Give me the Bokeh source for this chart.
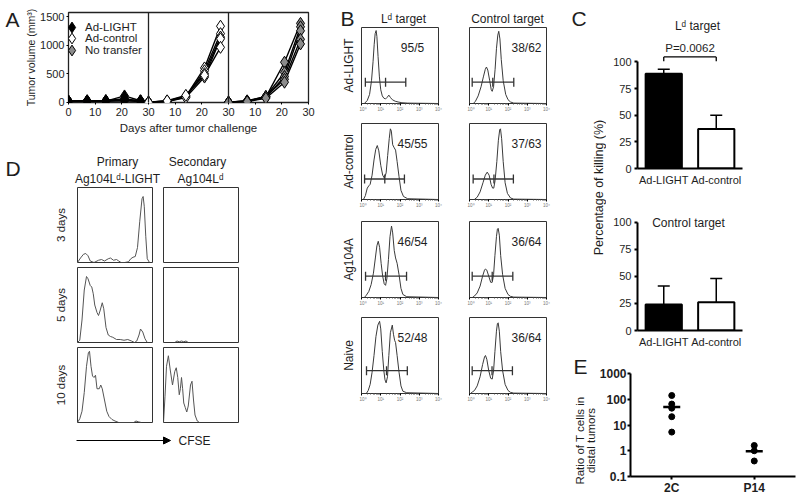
import math
from bokeh.plotting import figure
from bokeh.layouts import row, column
from bokeh.models import (Range1d, FactorRange, Label, Legend, LegendItem, FixedTicker, Span,
                          Whisker, TeeHead, ColumnDataSource, Arrow, NormalHead,
                          CustomJSTickFormatter)
from bokeh.embed import file_html
from bokeh.resources import INLINE

FONT = "Liberation Sans"
TXT = "#1e1e1e"

# ======================= DATA =======================
# ---- A: tumour growth (three adjoined sub-panels, 0-30 days each)
A_DAYS = [0, 7, 14, 21, 27]
A_PANEL_DAYS = 30
A_Y_TICKS = [0, 500, 1000, 1500]
A_GROUPS = ["Ad-LIGHT", "Ad-control", "No transfer"]
A_FILLS = ["black", "white", "#8c8c8c"]
A_LIGHT = [[20, 25, 20, 110, 25], [15, 20, 25, 60, 20], [10, 15, 20, 35, 15],
           [20, 25, 30, 50, 25], [15, 20, 15, 25, 10]]
A_CONTROL = [[0, 20, 100, 600, 1330], [0, 15, 90, 550, 1200], [0, 20, 110, 500, 1140],
             [0, 10, 80, 440, 1110], [0, 25, 120, 470, 960]]
A_NO_TRANSFER = [[0, 20, 90, 700, 1380], [0, 25, 100, 520, 1320], [0, 15, 80, 450, 1250],
                 [0, 20, 100, 400, 1100], [0, 10, 70, 350, 1020]]

# ---- B: flow histograms (x in decades of fluorescence, y relative count)
B_ROWS = ["Ad-LIGHT", "Ad-control", "Ag104A", "Naive"]
B_TARGETS = ["Lᵈ target", "Control target"]
B_RATIO_LD = ["95/5", "45/55", "46/54", "52/48"]
B_RATIO_CT = ["38/62", "37/63", "36/64", "36/64"]
B_DECADES = [0, 1, 2, 3, 4]

LD_LIGHT_X = [0.15, 0.3, 0.42, 0.52, 0.6, 0.66, 0.71, 0.76, 0.8, 0.86, 0.93, 1.0, 1.08, 1.16, 1.25,
              1.33, 1.42, 1.5, 1.6, 1.75, 1.9, 2.1, 2.4, 4.0]
LD_LIGHT_Y = [0.0, 0.04, 0.12, 0.3, 0.55, 0.78, 0.92, 0.96, 0.88, 0.62, 0.35, 0.18, 0.1, 0.07, 0.06,
              0.08, 0.11, 0.08, 0.05, 0.03, 0.02, 0.01, 0.005, 0.0]
CT_LIGHT_X = [0.2, 0.31, 0.45, 0.6, 0.72, 0.82, 0.88, 0.95, 1.05, 1.13, 1.18, 1.25, 1.33, 1.4, 1.47,
              1.52, 1.58, 1.65, 1.75, 1.88, 2.0, 2.13, 2.3, 4.0]
CT_LIGHT_Y = [0.0, 0.03, 0.1, 0.22, 0.35, 0.45, 0.48, 0.44, 0.3, 0.18, 0.16, 0.22, 0.45, 0.72, 0.9,
              0.95, 0.85, 0.58, 0.3, 0.12, 0.05, 0.02, 0.005, 0.0]
LD_CONTROL_X = [0.1, 0.2, 0.3, 0.38, 0.45, 0.55, 0.65, 0.74, 0.82, 0.9, 1.0, 1.1, 1.19, 1.28, 1.36,
                1.44, 1.5, 1.55, 1.62, 1.7, 1.77, 1.85, 1.95, 2.05, 2.18, 2.4, 4.0]
LD_CONTROL_Y = [0.0, 0.05, 0.15, 0.18, 0.2, 0.32, 0.52, 0.66, 0.71, 0.64, 0.45, 0.32, 0.28, 0.35, 0.58,
                0.8, 0.93, 0.9, 0.72, 0.68, 0.65, 0.5, 0.3, 0.12, 0.04, 0.01, 0.0]
CT_CONTROL_X = [0.25, 0.4, 0.55, 0.7, 0.82, 0.92, 1.02, 1.12, 1.2, 1.26, 1.33, 1.42, 1.5, 1.57, 1.61,
                1.67, 1.75, 1.85, 1.97, 2.13, 2.3, 4.0]
CT_CONTROL_Y = [0.0, 0.03, 0.1, 0.22, 0.32, 0.36, 0.32, 0.2, 0.15, 0.15, 0.25, 0.5, 0.78, 0.92, 0.93,
                0.8, 0.5, 0.22, 0.08, 0.02, 0.005, 0.0]
LD_AG104A_X = [0.15, 0.25, 0.38, 0.5, 0.62, 0.72, 0.8, 0.87, 0.94, 1.02, 1.1, 1.18, 1.25, 1.32, 1.4,
               1.48, 1.56, 1.62, 1.7, 1.77, 1.85, 1.95, 2.05, 2.15, 2.35, 4.0]
LD_AG104A_Y = [0.0, 0.03, 0.08, 0.17, 0.32, 0.52, 0.68, 0.74, 0.66, 0.45, 0.28, 0.18, 0.16, 0.25, 0.5,
               0.8, 0.94, 0.85, 0.62, 0.52, 0.45, 0.3, 0.12, 0.04, 0.01, 0.0]
CT_AG104A_X = [0.15, 0.26, 0.4, 0.55, 0.68, 0.78, 0.83, 0.9, 1.0, 1.1, 1.18, 1.25, 1.32, 1.4, 1.45,
               1.49, 1.55, 1.62, 1.72, 1.85, 2.0, 2.13, 2.3, 4.0]
CT_AG104A_Y = [0.0, 0.02, 0.06, 0.15, 0.28, 0.36, 0.375, 0.36, 0.28, 0.2, 0.2, 0.3, 0.55, 0.8, 0.9,
               0.91, 0.82, 0.55, 0.3, 0.12, 0.04, 0.015, 0.005, 0.0]
LD_NAIVE_X = [0.25, 0.35, 0.45, 0.55, 0.65, 0.75, 0.85, 0.94, 1.0, 1.08, 1.16, 1.22, 1.28, 1.35, 1.42,
              1.5, 1.6, 1.66, 1.72, 1.77, 1.85, 1.95, 2.05, 2.15, 2.35, 4.0]
LD_NAIVE_Y = [0.0, 0.04, 0.12, 0.28, 0.5, 0.75, 0.9, 0.95, 0.85, 0.55, 0.3, 0.18, 0.14, 0.22, 0.5,
              0.8, 0.9, 0.78, 0.7, 0.67, 0.5, 0.28, 0.1, 0.03, 0.01, 0.0]
CT_NAIVE_X = [0.05, 0.15, 0.26, 0.4, 0.55, 0.68, 0.78, 0.83, 0.9, 1.0, 1.1, 1.18, 1.25, 1.32, 1.4,
              1.45, 1.49, 1.55, 1.62, 1.72, 1.85, 2.0, 2.13, 2.3, 4.0]
CT_NAIVE_Y = [0.0, 0.02, 0.04, 0.1, 0.22, 0.38, 0.48, 0.5, 0.45, 0.3, 0.2, 0.19, 0.3, 0.55, 0.82,
              0.92, 0.93, 0.82, 0.55, 0.3, 0.12, 0.04, 0.015, 0.005, 0.0]

# gates: (low, split, high) in decades, and gate height
B_GATES_LD = [[0.2, 1.25, 2.3], [0.16, 1.21, 2.23], [0.21, 1.25, 2.34], [0.26, 1.3, 2.38]]
B_GATES_CT = [[0.14, 1.21, 2.3], [0.19, 1.27, 2.28], [0.14, 1.18, 2.25], [0.14, 1.17, 2.23]]
B_GATE_LEVEL_LD = [0.28, 0.27, 0.28, 0.3]
B_GATE_LEVEL_CT = [0.28, 0.27, 0.28, 0.3]

# ---- C: percentage of killing
C_GROUPS = ["Ad-LIGHT", "Ad-control"]
C_FILLS = ["black", "white"]
C_Y_TICKS = [0, 25, 50, 75, 100]
KILL_LD_MEAN = [89, 37]
KILL_LD_ERR = [4, 13]
KILL_CT_MEAN = [24, 26]
KILL_CT_ERR = [17, 22]
P_VALUE = "P=0.0062"

# ---- D: CFSE dilution (x relative channel, y relative count)
D_COLS = [["Primary", "Ag104Lᵈ-LIGHT"], ["Secondary", "Ag104Lᵈ"]]
D_ROWS = ["3 days", "5 days", "10 days"]
P3_X = [0.0, 0.04, 0.08, 0.11, 0.14, 0.17, 0.22, 0.28, 0.32, 0.36, 0.41, 0.44, 0.48, 0.52, 0.55,
        0.58, 0.63, 0.68, 0.71, 0.74, 0.77, 0.8, 0.83, 0.86, 0.875, 0.89, 0.91, 0.93, 0.96]
P3_Y = [0.0, 0.06, 0.11, 0.12, 0.09, 0.02, 0.0, 0.03, 0.04, 0.02, 0.05, 0.06, 0.03, 0.04, 0.02,
        0.0, 0.0, 0.01, 0.05, 0.07, 0.08, 0.2, 0.55, 0.85, 0.88, 0.75, 0.35, 0.05, 0.0]
P5_X = [0.0, 0.03, 0.06, 0.09, 0.12, 0.14, 0.17, 0.19, 0.21, 0.23, 0.26, 0.28, 0.3, 0.33, 0.35,
        0.38, 0.41, 0.44, 0.47, 0.52, 0.57, 0.62, 0.67, 0.72, 0.76, 0.79, 0.82, 0.84, 0.87, 0.9, 0.93]
P5_Y = [0.0, 0.03, 0.3, 0.7, 0.88, 0.85, 0.76, 0.74, 0.65, 0.5, 0.4, 0.36, 0.42, 0.53, 0.45,
        0.2, 0.1, 0.08, 0.07, 0.04, 0.04, 0.03, 0.04, 0.02, 0.0, 0.02, 0.1, 0.18, 0.14, 0.05, 0.0]
P10_X = [0.0, 0.03, 0.06, 0.09, 0.12, 0.145, 0.16, 0.18, 0.2, 0.22, 0.24, 0.26, 0.29, 0.31, 0.33,
         0.36, 0.39, 0.42, 0.46, 0.5, 0.55, 0.75, 0.78, 0.81, 0.85]
P10_Y = [0.0, 0.05, 0.15, 0.4, 0.75, 0.93, 0.95, 0.75, 0.62, 0.6, 0.63, 0.45, 0.45, 0.5, 0.45,
         0.3, 0.15, 0.08, 0.04, 0.02, 0.0, 0.0, 0.02, 0.01, 0.0]
S3_X = []
S3_Y = []
S5_X = [0.15, 0.18, 0.21, 0.24, 0.27, 0.3, 0.33]
S5_Y = [0.0, 0.02, 0.01, 0.02, 0.01, 0.02, 0.0]
S10_X = [0.0, 0.02, 0.04, 0.065, 0.09, 0.12, 0.15, 0.17, 0.19, 0.21, 0.225, 0.24, 0.255, 0.27, 0.29,
         0.31, 0.33, 0.36, 0.38, 0.4, 0.42, 0.45, 0.48]
S10_Y = [0.0, 0.35, 0.75, 0.89, 0.7, 0.5, 0.68, 0.73, 0.6, 0.37, 0.45, 0.6, 0.45, 0.26, 0.2,
         0.14, 0.22, 0.5, 0.55, 0.3, 0.1, 0.02, 0.0]

# ---- E: ratio of T cells in distal tumours
E_GROUPS = ["2C", "P14"]
E_2C = [140, 65, 45, 21, 5.3]
E_P14 = [1.6, 1.0, 0.4]
E_MEAN = [50, 0.95]
E_Y_TICKS = [0.1, 1, 10, 100, 1000]


# ======================= HELPERS =======================
def base_fig(w, h, xr, yr, l, r, t, b, **kw):
    kw.setdefault("x_axis_location", None)
    kw.setdefault("y_axis_location", None)
    kw.setdefault("outline_line_color", None)
    p = figure(width=w, height=h, x_range=xr, y_range=yr, toolbar_location=None,
               output_backend="svg", title=None, min_border_left=l, min_border_right=r,
               min_border_top=t, min_border_bottom=b, **kw)
    p.xgrid.visible = False
    p.ygrid.visible = False
    return p


def strip(w, h, t=0, b=0):
    """A figure with no axes; holds free text placed relative to its frame."""
    return base_fig(w, h, Range1d(0, w), Range1d(0, h - t - b), 0, 0, t, b)


def style_axis(ax, size="11px", bold=False, tick_out=2, standoff=3, line_color="black",
               line_width=1.0, color=TXT):
    ax.major_label_text_font = FONT
    ax.major_label_text_font_size = size
    ax.major_label_text_font_style = "bold" if bold else "normal"
    ax.major_label_text_color = color
    ax.axis_label_text_font = FONT
    ax.axis_label_text_font_style = "normal"
    ax.axis_label_text_color = TXT
    ax.major_tick_in = 0
    ax.major_tick_out = tick_out
    ax.major_tick_line_color = "black" if tick_out else None
    ax.major_tick_line_width = line_width
    ax.minor_tick_line_color = None
    ax.major_label_standoff = standoff
    ax.axis_line_color = line_color
    ax.axis_line_width = line_width


def note(p, x, y, text, size="12px", align="center", angle=0.0, bold=False, units="screen"):
    p.add_layout(Label(x=x, y=y, x_units=units, y_units=units, text=text, angle=angle,
                       text_font=FONT, text_font_size=size, text_color=TXT,
                       text_align=align, text_baseline="middle",
                       text_font_style="bold" if bold else "normal"))


LETTER = "21px"
VERT = math.pi / 2

# ======================= PANEL A =======================
A_T, A_B, A_FRAME = 12, 38, 90
pA = base_fig(308, 140, Range1d(0, 3 * A_PANEL_DAYS), Range1d(-5, 1570), 46, 22, A_T, A_B,
              x_axis_location="below", y_axis_location="left",
              outline_line_color="#222", outline_line_width=1.3)
for gi, mice in enumerate([A_LIGHT, A_CONTROL, A_NO_TRANSFER]):
    xs = [[d + gi * A_PANEL_DAYS for d in A_DAYS] for _ in mice]
    pA.multi_line(xs, mice, line_color="black", line_width=1.4)
a_renderers = []
for gi, (mice, fill) in enumerate(zip([A_LIGHT, A_CONTROL, A_NO_TRANSFER], A_FILLS)):
    fx = [d + gi * A_PANEL_DAYS for _ in mice for d in A_DAYS]
    fy = [v for m in mice for v in m]
    r = pA.scatter(fx, fy, marker="diamond", size=12, fill_color=fill,
                   line_color="black", line_width=1)
    a_renderers.append(r)
for k in (1, 2):
    pA.add_layout(Span(location=k * A_PANEL_DAYS, dimension="height", line_color="#222",
                       line_width=1.3))
a_ticks = list(range(0, 3 * A_PANEL_DAYS + 1, 10))
style_axis(pA.xaxis[0], size="11px", tick_out=2, standoff=3, line_color=None)
style_axis(pA.yaxis[0], size="11px", tick_out=2, standoff=2, line_color=None)
pA.xaxis.ticker = FixedTicker(ticks=a_ticks)
pA.xaxis.major_label_overrides = {t: str(0 if t == 0 else (t % A_PANEL_DAYS or A_PANEL_DAYS))
                                  for t in a_ticks}
pA.yaxis.ticker = FixedTicker(ticks=A_Y_TICKS)
pA.xaxis.axis_label = "Days after tumor challenge"
pA.xaxis.axis_label_text_font_size = "11.5px"
pA.xaxis.axis_label_standoff = 3
pA.yaxis.axis_label = "Tumor volume (mm³)"
pA.yaxis.axis_label_text_font_size = "10.5px"
pA.yaxis.axis_label_standoff = 0
# one legend box per entry so that the entries sit close together
for k, (g, r) in enumerate(zip(A_GROUPS, a_renderers)):
    pA.add_layout(Legend(items=[LegendItem(label=g, renderers=[r])],
                         location=(-10, 60.3 - 11.6 * k), padding=0, margin=0, spacing=0,
                         glyph_width=27, glyph_height=30, label_height=12, label_standoff=0,
                         label_text_font=FONT, label_text_font_size="11.5px",
                         label_text_color=TXT, background_fill_alpha=0,
                         border_line_color=None))
stripA = strip(22, 140, A_T, A_B)
note(stripA, 5, A_FRAME - 6.5, "A", size=LETTER, align="left")

# ======================= PANEL B =======================
SUP = "⁰¹²³⁴"
B_MINOR = [d + math.log10(k) for d in range(4) for k in range(2, 10)]
b_curves_ld = [(LD_LIGHT_X, LD_LIGHT_Y), (LD_CONTROL_X, LD_CONTROL_Y),
               (LD_AG104A_X, LD_AG104A_Y), (LD_NAIVE_X, LD_NAIVE_Y)]
b_curves_ct = [(CT_LIGHT_X, CT_LIGHT_Y), (CT_CONTROL_X, CT_CONTROL_Y),
               (CT_AG104A_X, CT_AG104A_Y), (CT_NAIVE_X, CT_NAIVE_Y)]
B_ROW_H = [95, 98, 96, 100]
B_ROW_T = [1, 2, 2, 2]
B_FRAME_H = 76
GATE_CAP = 0.06


def flow_fig(w, l, r, h, t, curve, gate, level, ratio, ratio_x):
    p = base_fig(w, h, Range1d(B_DECADES[0], B_DECADES[-1]), Range1d(0, 1), l, r, t,
                 h - t - B_FRAME_H, x_axis_location="below",
                 outline_line_color="#333", outline_line_width=1)
    ax = p.xaxis[0]
    style_axis(ax, size="4.5px", tick_out=2, standoff=1, line_color="#333", color="#777")
    ax.ticker = FixedTicker(ticks=B_DECADES, minor_ticks=B_MINOR)
    ax.major_label_overrides = {d: "10" + SUP[i] for i, d in enumerate(B_DECADES)}
    ax.minor_tick_line_color = "#555"
    ax.minor_tick_out = 1
    ax.minor_tick_in = 0
    p.line(curve[0], curve[1], line_color="#3a3a3a", line_width=1)
    p.segment(x0=[gate[0]], y0=[level], x1=[gate[2]], y1=[level], line_color="#333",
              line_width=1.3)
    p.segment(x0=gate, y0=[level - GATE_CAP] * 3, x1=gate, y1=[level + GATE_CAP] * 3,
              line_color="#333", line_width=1.3)
    note(p, ratio_x, B_FRAME_H - 20, ratio, size="12px")
    return p


b_rows = []
for i in range(4):
    h, t = B_ROW_H[i], B_ROW_T[i]
    bl = flow_fig(108, 2, 29, h, t, b_curves_ld[i], B_GATES_LD[i], B_GATE_LEVEL_LD[i],
                  B_RATIO_LD[i], 51)
    br = flow_fig(91, 2, 12, h, t, b_curves_ct[i], B_GATES_CT[i], B_GATE_LEVEL_CT[i],
                  B_RATIO_CT[i], 57)
    b_rows.append(row(bl, br))

stripBhead = strip(199, 26)
note(stripBhead, 44, 8, B_TARGETS[0], size="12px")
note(stripBhead, 148, 8, B_TARGETS[1], size="12px")
stripBleft = strip(29, 415)
note(stripBleft, 10, 397, "B", size=LETTER, align="left")
for lbl, yc in zip(B_ROWS, [350, 254, 156, 60]):
    note(stripBleft, 18, yc, lbl, size="12px", angle=VERT)
colB = row(stripBleft, column(stripBhead, *b_rows))

# ======================= PANEL C =======================
C_FRAME_LEFT, C_FRAME_W = 31, 105


def kill_fig(h, t, frame_h, ymax, means, errs):
    p = base_fig(194, h, FactorRange(factors=C_GROUPS), Range1d(0, ymax), C_FRAME_LEFT,
                 194 - C_FRAME_LEFT - C_FRAME_W, t, h - t - frame_h,
                 x_axis_location="below", y_axis_location="left")
    p.vbar(x=C_GROUPS, top=means, width=0.69, fill_color=C_FILLS, line_color="black",
           line_width=2)
    src = ColumnDataSource(dict(x=C_GROUPS, lower=means,
                                upper=[m + e for m, e in zip(means, errs)]))
    p.add_layout(Whisker(source=src, base="x", lower="lower", upper="upper",
                         dimension="height", line_color="black", line_width=1.5,
                         upper_head=TeeHead(size=12, line_color="black", line_width=1.5),
                         lower_head=None))
    style_axis(p.xaxis[0], size="11px", tick_out=0, standoff=5, line_width=2)
    style_axis(p.yaxis[0], size="11px", tick_out=3, standoff=3, line_width=2)
    p.yaxis.ticker = FixedTicker(ticks=C_Y_TICKS)
    p.yaxis.bounds = (C_Y_TICKS[0], C_Y_TICKS[-1])
    return p


pCt = kill_fig(200, 18, 150, 150 / 1.066, KILL_LD_MEAN, KILL_LD_ERR)
br_y = C_Y_TICKS[-1] + 4.7
pCt.segment(x0=[C_GROUPS[0]], y0=[br_y], x1=[C_GROUPS[1]], y1=[br_y], line_color="black",
            line_width=1.3)
pCt.segment(x0=C_GROUPS, y0=[br_y - 4] * 2, x1=C_GROUPS, y1=[br_y] * 2, line_color="black",
            line_width=1.3)
pCt.add_layout(Label(x=1.0, y=br_y + 8, text=P_VALUE, text_font=FONT, text_font_size="11.5px",
                     text_color=TXT, text_align="center", text_baseline="middle"))
note(pCt, 60, 143, B_TARGETS[0], size="12px")

pCb = kill_fig(150, 10, 120, 120 / 1.083, KILL_CT_MEAN, KILL_CT_ERR)
note(pCb, 51, 108, "Control target", size="12px")

pClab = strip(48, 350)
note(pClab, 13, 332.5, "C", size=LETTER, align="left")
note(pClab, 40, 163, "Percentage of killing (%)", size="12.5px", angle=VERT)

# ======================= PANEL E =======================
pE = base_fig(204, 147, FactorRange(factors=E_GROUPS), Range1d(E_Y_TICKS[0], E_Y_TICKS[-1]),
              32, 5, 23, 21, x_axis_location="below", y_axis_location="left",
              y_axis_type="log")
ex = [E_GROUPS[0]] * len(E_2C) + [E_GROUPS[1]] * len(E_P14)
pE.scatter(ex, E_2C + E_P14, marker="circle", size=6, fill_color="black", line_color="black")
pE.scatter(E_GROUPS, E_MEAN, marker="dash", size=17, line_color="black", line_width=2.5)
style_axis(pE.xaxis[0], size="12px", bold=True, tick_out=3, standoff=1, line_width=2)
style_axis(pE.yaxis[0], size="12px", bold=True, tick_out=3, standoff=1, line_width=2)
pE.yaxis.ticker = FixedTicker(ticks=E_Y_TICKS)
pE.yaxis.formatter = CustomJSTickFormatter(code="return tick.toString();")
stripE = strip(38, 147)
note(stripE, 15, 131, "E", size=LETTER, align="left")
note(stripE, 21, 57, "Ratio of T cells in", size="11.5px", angle=VERT)
note(stripE, 32, 57, "distal tumors", size="11.5px", angle=VERT)

# ======================= PANEL D =======================
d_curves = [[(P3_X, P3_Y), (S3_X, S3_Y)],
            [(P5_X, P5_Y), (S5_X, S5_Y)],
            [(P10_X, P10_Y), (S10_X, S10_Y)]]
D_ROW_H = [79, 80, 81]
D_ROW_T = [1, 2, 2]
D_FRAME = 75
d_rows = []
for i in range(3):
    figs = []
    for j, (w, l) in enumerate([(83, 2), (172, 5)]):
        h, t = D_ROW_H[i], D_ROW_T[i]
        p = base_fig(w, h, Range1d(0, 1), Range1d(0, 1), l, w - l - D_FRAME, t,
                     h - t - D_FRAME, outline_line_color="#333", outline_line_width=1)
        cx, cy = d_curves[i][j]
        if cx:
            p.line(cx, cy, line_color="#555", line_width=1)
        figs.append(p)
    d_rows.append(row(*figs))

stripDhead = strip(330, 46)
note(stripDhead, 5, 18, "D", size=LETTER, align="left")
note(stripDhead, 117, 25, D_COLS[0][0], size="12px")
note(stripDhead, 117, 8, D_COLS[0][1], size="12px")
note(stripDhead, 197, 25, D_COLS[1][0], size="12px")
note(stripDhead, 200, 8, D_COLS[1][1], size="12px")
stripDleft = strip(75, 240)
for lbl, yc in zip(D_ROWS, [201.5, 121.5, 41.5]):
    note(stripDleft, 60, yc, lbl, size="11.5px", angle=VERT)

stripDarrow = base_fig(330, 71, Range1d(0, 330), Range1d(0, 71), 0, 0, 0, 0)
stripDarrow.add_layout(Arrow(x_start=76, y_start=57, x_end=170, y_end=57, line_color="black",
                             line_width=1, end=NormalHead(size=7, fill_color="black",
                                                          line_color="black")))
note(stripDarrow, 178, 57, "CFSE", size="12px", align="left")

# ======================= LAYOUT =======================
colLeft = column(row(stripA, pA), stripDhead,
                 row(stripDleft, column(*d_rows)), stripDarrow)
colRight = column(row(pClab, column(pCt, pCb)), row(column(stripE), column(pE)))
root = row(colLeft, colB, colRight)

open("out.html", "w").write(file_html(root, INLINE))
